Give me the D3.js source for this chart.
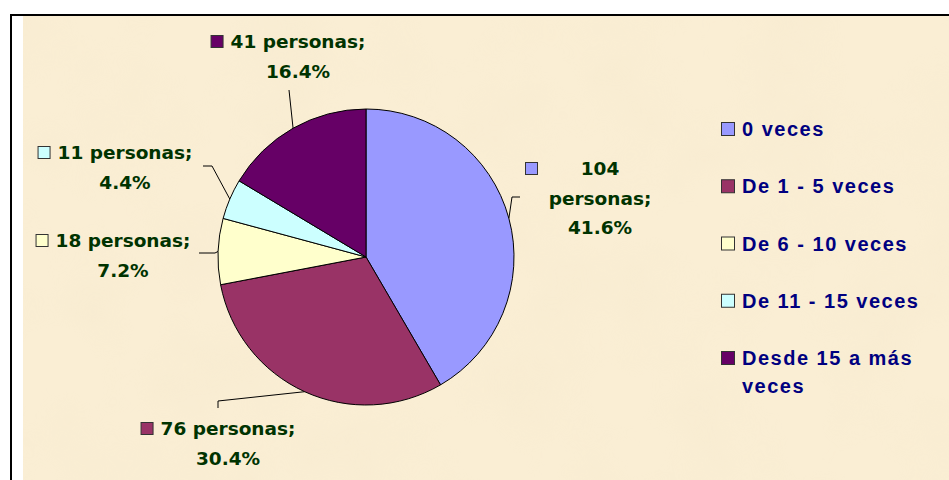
<!DOCTYPE html>
<html><head><meta charset="utf-8">
<script src="https://cdn.jsdelivr.net/npm/d3@7"></script>
<style>html,body{margin:0;padding:0;background:#fff;overflow:hidden}</style>
</head><body>
<script>
const categories = ["0 veces", "De 1 - 5 veces", "De 6 - 10 veces", "De 11 - 15 veces", "Desde 15 a más veces"];
const values = [104, 76, 18, 11, 41];
const percents = ["41.6%", "30.4%", "7.2%", "4.4%", "16.4%"];
const colors = ["#9999ff", "#993366", "#ffffcc", "#ccffff", "#660066"];
// label layout: text centre x, first baseline y, line breaks, leader elbow
const labelLayout = [
  {cx: 600, y: 175, lines: ["104", "personas;", "41.6%"], sqx: 525, elbow: [[520,197],[512,197]]},
  {cx: 228, y: 435, lines: ["76 personas;", "30.4%"], elbow: [[218,408],[218,401]]},
  {cx: 123, y: 247, lines: ["18 personas;", "7.2%"], elbow: [[199,253],[215,253]]},
  {cx: 125, y: 159, lines: ["11 personas;", "4.4%"], elbow: [[203,166],[212,166]]},
  {cx: 298, y: 48, lines: ["41 personas;", "16.4%"], elbow: [[289,90]]}
];
const legendLines = [["0 veces"], ["De 1 - 5 veces"], ["De 6 - 10 veces"], ["De 11 - 15 veces"], ["Desde 15 a más", "veces"]];

const W = 949, H = 480;
const svg = d3.select("body").append("svg").attr("width", W).attr("height", H);
const defs = svg.append("defs");
const f = defs.append("filter").attr("id", "tex").attr("x", 0).attr("y", 0).attr("width", 1).attr("height", 1);
f.append("feTurbulence").attr("type", "fractalNoise").attr("baseFrequency", "0.012").attr("numOctaves", 3).attr("seed", 4).attr("result", "n");
f.append("feColorMatrix").attr("in", "n").attr("type", "matrix")
  .attr("values", "0 0 0 0 0.85  0 0 0 0 0.75  0 0 0 0 0.55  1.2 0 0 0 -0.45");

// background
svg.append("rect").attr("x", 11).attr("y", 15).attr("width", W).attr("height", H).attr("fill", "#ffffff");
svg.append("rect").attr("x", 23).attr("y", 16).attr("width", W - 23).attr("height", H - 16).attr("fill", "#faeed4");
svg.append("rect").attr("x", 23).attr("y", 16).attr("width", W - 23).attr("height", H - 16).attr("filter", "url(#tex)").attr("opacity", 0.22);
svg.append("line").attr("x1", 10).attr("x2", W).attr("y1", 15).attr("y2", 15).attr("stroke", "#000").attr("stroke-width", 2);
svg.append("line").attr("x1", 11).attr("x2", 11).attr("y1", 14).attr("y2", H).attr("stroke", "#000").attr("stroke-width", 2);

const cx = 366, cy = 257, R = 148;
const pie = d3.pie().sort(null).value(d => d)(values);
const arc = d3.arc().innerRadius(0).outerRadius(R);
const g = svg.append("g").attr("transform", `translate(${cx},${cy})`);
g.selectAll("path").data(pie).join("path")
  .attr("d", arc).attr("fill", (d, i) => colors[i])
  .attr("stroke", "#000").attr("stroke-width", 1);

// leaders & labels
const lblFont = "'DejaVu Sans', Verdana, sans-serif";
pie.forEach((d, i) => {
  const L = labelLayout[i];
  const a = (d.startAngle + d.endAngle) / 2;
  const px = cx + R * Math.sin(a), py = cy - R * Math.cos(a);
  const pts = L.elbow.concat([[px, py]]);
  svg.append("path").attr("d", d3.line()(pts)).attr("fill", "none").attr("stroke", "#000").attr("stroke-width", 1);
  const t = svg.append("text").attr("font-family", lblFont).attr("font-weight", "bold")
    .attr("font-size", 18.5).attr("fill", "#003300").attr("text-anchor", "middle");
  L.lines.forEach((ln, k) => {
    t.append("tspan").attr("x", L.cx).attr("y", L.y + k * 29.5).text(ln);
  });
  const tmp = svg.append("text").attr("font-family", lblFont).attr("font-weight", "bold").attr("font-size", 18.5).text(L.lines[0]);
  const w0 = tmp.node().getComputedTextLength(); tmp.remove();
  const sx = L.sqx !== undefined ? L.sqx : L.cx - w0 / 2 - 20;
  svg.append("rect").attr("x", sx + 0.5).attr("y", L.y - 12.5).attr("width", 12).attr("height", 12)
    .attr("fill", colors[i]).attr("stroke", "#333").attr("stroke-width", 1);
});

// legend
const legY = d3.scaleLinear().domain([0, 4]).range([136, 365]);
categories.forEach((c, i) => {
  const y = legY(i);
  svg.append("rect").attr("x", 721.5).attr("y", y - 13.5).attr("width", 13).attr("height", 13)
    .attr("fill", colors[i]).attr("stroke", "#333").attr("stroke-width", 1);
  const t = svg.append("text").attr("font-family", "'Liberation Sans', Arial, sans-serif").attr("font-weight", "bold")
    .attr("font-size", 20).attr("letter-spacing", 1.5).attr("fill", "#000080");
  legendLines[i].forEach((ln, k) => t.append("tspan").attr("x", 742).attr("y", y + k * 27.5).text(ln));
});
</script>
</body></html>
